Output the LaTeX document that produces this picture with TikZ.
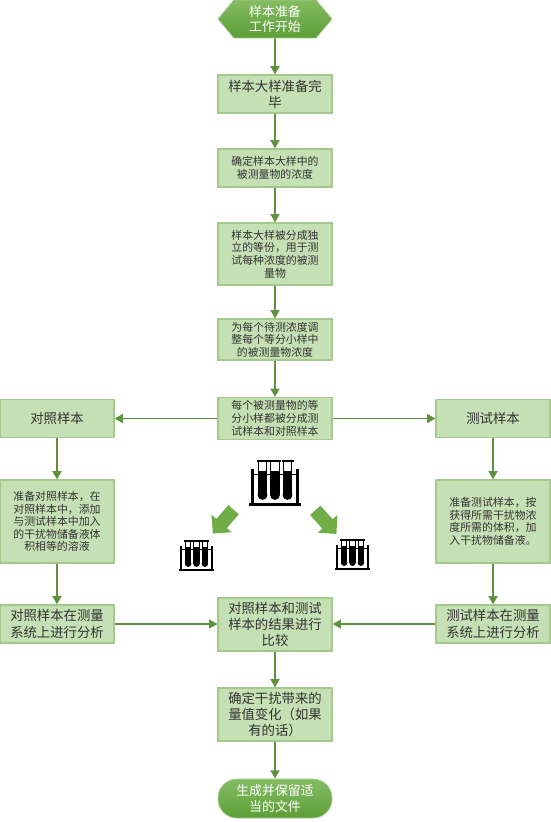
\documentclass[tikz,border=0pt]{standalone}
\usepackage{fontspec}
\setmainfont{Noto Sans CJK SC}
\usetikzlibrary{arrows.meta, shapes.arrows, shapes.symbols}

\definecolor{boxfill}{HTML}{C5E0B4}
\definecolor{boxline}{HTML}{A3C98B}
\definecolor{flowline}{HTML}{5F9140}
\definecolor{termtop}{HTML}{86BC64}
\definecolor{termbot}{HTML}{5C9E38}
\definecolor{blockgreen}{HTML}{70AD47}
\definecolor{boxtext}{HTML}{333333}

\tikzset{
    box/.style={draw=boxline, line width=1pt, fill=boxfill, text=boxtext, align=center,
        minimum width=3.42cm, inner sep=0pt, font=\fontsize{11.4pt}{13.8pt}\selectfont},
    smallbox/.style={box, font=\fontsize{9.3pt}{10.8pt}\selectfont},
    term/.style={draw=boxline, line width=0.6pt, top color=termtop, bottom color=termbot, text=white,
        align=center, minimum width=3.42cm, inner sep=0pt, font=\fontsize{11pt}{13.2pt}\selectfont},
    flow/.style={draw=flowline, line width=1.5pt, -{Triangle[length=2.5mm, width=2.7mm]}},
    flowthin/.style={flow, line width=1.2pt},
    bigarrow/.style={single arrow, fill=blockgreen, minimum height=0.95cm, minimum width=0.8cm, inner sep=0.2cm,
        single arrow head extend=0.19cm, single arrow head indent=0cm},
    tuberack/.pic={
        % Draw the rack
        \fill[black] (-26,-1.5) rectangle (26,1.5);
        \fill[black] (-24,0) rectangle (-21,-36);
        \fill[black] (21,0) rectangle (24,-36);
        \fill[black] (-22,-29.5) rectangle (22,-31);
        % Draw the tubes
        \foreach \tubex in {-12.5,0,12.5} {
            \fill[black] (\tubex-4.9,-33) rectangle (\tubex+4.9,-9.5);
            \fill[black] (\tubex,-9.5) circle[radius=4.9];
            \draw[black, line width=0.9pt, fill=white] (\tubex-4.2,-33) rectangle (\tubex+4.2,-43);
            \fill[black] (\tubex-6,-42.5) rectangle (\tubex+6,-44.5);
        }
    }
}

\begin{document}
\begin{tikzpicture}[x=0.03cm, y=-0.03cm]
    \useasboundingbox (0,0) rectangle (550,822);

    % Draw the middle column
    \node[term, shape=signal, signal to=west and east, signal pointer angle=100, minimum height=1.14cm] (start) at (275,19) {样本准备\\工作开始};
    \node[box, minimum height=1.14cm] (stock) at (275,94) {样本大样准备完\\毕};
    \node[smallbox, minimum height=1.14cm] (conc) at (275,168) {确定样本大样中的\\被测量物的浓度};
    \node[smallbox, minimum height=1.86cm] (split) at (275,254) {样本大样被分成独\\立的等份，用于测\\试每种浓度的被测\\量物};
    \node[smallbox, minimum height=1.23cm] (adjust) at (275,339.5) {为每个待测浓度调\\整每个等分小样中\\的被测量物浓度};
    \node[smallbox, minimum height=1.26cm] (pairs) at (275,418.5) {每个被测量物的等\\分小样都被分成测\\试样本和对照样本};
    \node[box, minimum height=1.59cm] (compare) at (275,624.5) {对照样本和测试\\样本的结果进行\\比较};
    \node[box, minimum height=1.59cm] (change) at (275,714.5) {确定干扰带来的\\量值变化（如果\\有的话）};
    \node[term, rounded corners=0.57cm, minimum height=1.17cm] (docs) at (275,798.5) {生成并保留适\\当的文件};

    % Draw the control column
    \node[box, minimum height=1.14cm] (ctrl) at (57,418.5) {对照样本};
    \node[smallbox, minimum height=2.49cm] (ctrlprep) at (57,521.5) {准备对照样本，在\\对照样本中，添加\\与测试样本中加入\\的干扰物储备液体\\积相等的溶液};
    \node[box, minimum height=1.14cm] (ctrlrun) at (57,624) {对照样本在测量\\系统上进行分析};

    % Draw the test column
    \node[box, minimum height=1.14cm] (test) at (493,418.5) {测试样本};
    \node[smallbox, minimum height=2.49cm] (testprep) at (493,521.5) {准备测试样本，按\\获得所需干扰物浓\\度所需的体积，加\\入干扰物储备液。};
    \node[box, minimum height=1.14cm] (testrun) at (493,624) {测试样本在测量\\系统上进行分析};

    % Draw the connectors
    \draw[flow] (start) -- (stock);
    \draw[flow] (stock) -- (conc);
    \draw[flow] (conc) -- (split);
    \draw[flow] (split) -- (adjust);
    \draw[flow] (adjust) -- (pairs);
    \draw[flowthin] (pairs) -- (ctrl);
    \draw[flowthin] (pairs) -- (test);
    \draw[flow] (ctrl) -- (ctrlprep);
    \draw[flow] (ctrlprep) -- (ctrlrun);
    \draw[flow] (test) -- (testprep);
    \draw[flow] (testprep) -- (testrun);
    \draw[flowthin] (ctrlrun) -- (ctrlrun -| compare.west);
    \draw[flowthin] (testrun) -- (testrun -| compare.east);
    \draw[flow] (compare) -- (change);
    \draw[flow] (change) -- (docs);

    % Draw the racks and the block arrows
    \pic at (275,504.5) {tuberack};
    \pic[scale=0.67] at (196.5,570) {tuberack};
    \pic[scale=0.67] at (352.5,569) {tuberack};
    \node[bigarrow, rotate=229] (arrowleft) at (225.5,519) {};
    \node[bigarrow, rotate=-48] (arrowright) at (323.5,519.5) {};
\end{tikzpicture}
\end{document}
